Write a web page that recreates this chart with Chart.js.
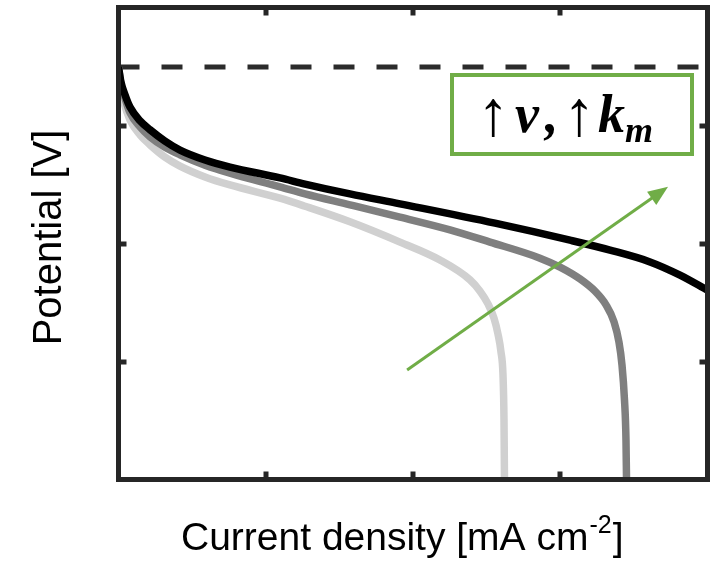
<!DOCTYPE html>
<html>
<head>
<meta charset="utf-8">
<script src="https://cdn.jsdelivr.net/npm/chart.js@4"></script>
<style>
  html, body { margin: 0; padding: 0; background: #fff; }
  #wrap { width: 712px; height: 570px; }
</style>
</head>
<body>
<div id="wrap"><canvas id="polChart" width="712" height="570"></canvas></div>
<script>
// curve dati (x = densità di corrente, y = potenziale, unità arbitrarie 0-100)
var blackX = [0, 0.42, 1.10, 1.95, 3.65, 5.35, 7.89, 10.44, 14.69, 18.93, 27.42, 31.66, 39.30, 47.79, 63.92, 76.66, 83.45, 90.24, 95.33, 100];
var blackY = [87.4, 84.2, 81.5, 78.9, 76.0, 74.1, 71.7, 69.8, 67.7, 66.2, 63.9, 62.6, 60.5, 58.4, 54.3, 50.7, 48.6, 46.1, 43.3, 40.1];

var grayX = [0, 0.42, 1.10, 1.95, 3.65, 5.35, 7.89, 10.44, 14.69, 18.93, 27.42, 31.66, 39.30, 47.79, 56.28, 63.07, 71.56, 74.96, 78.35, 80.90, 82.77, 84.13, 84.97, 85.48, 85.91, 86.16, 86.25];
var grayY = [87.4, 83.8, 80.8, 77.7, 74.7, 72.6, 70.4, 68.8, 66.6, 64.9, 62.0, 60.5, 58.2, 55.6, 52.9, 50.3, 46.9, 45.0, 42.5, 39.9, 37.0, 33.4, 29.1, 24.3, 16.8, 8.4, 0];

var lightX = [0, 0.25, 0.93, 1.95, 3.65, 5.35, 7.89, 10.44, 14.69, 18.93, 27.42, 31.66, 39.30, 47.79, 54.58, 59.68, 61.38, 62.73, 63.75, 64.43, 64.94, 65.28, 65.45, 65.53];
var lightY = [87.4, 83.4, 79.8, 76.2, 73.0, 70.9, 68.3, 66.4, 64.1, 62.4, 59.6, 57.9, 54.6, 50.3, 46.5, 42.3, 39.9, 37.2, 34.2, 30.8, 27.0, 22.1, 12.6, 0];

// linea tratteggiata (potenziale a circuito aperto)
var ocvX = [0, 100];
var ocvY = [87.4, 87.4];

// freccia verde
var arrowX = [49.0, 93.3];
var arrowY = [23.2, 62.0];

var tickValues = [25, 50, 75];

function toPoints(xs, ys) {
    return xs.map(function(x, i) { return { x: x, y: ys[i] }; });
}

// plugin per cornice, tacche, freccia, riquadro e titoli
var decorPlugin = {
    id: 'decor',
    afterDatasetsDraw: function(chart) {
        var ctx = chart.ctx;
        var a = chart.chartArea;
        var xs = chart.scales.x, ys = chart.scales.y;
        ctx.save();

        // freccia
        var x1 = xs.getPixelForValue(arrowX[0]), y1 = ys.getPixelForValue(arrowY[0]);
        var x2 = xs.getPixelForValue(arrowX[1]), y2 = ys.getPixelForValue(arrowY[1]);
        var ang = Math.atan2(y2 - y1, x2 - x1);
        ctx.strokeStyle = '#70ad47';
        ctx.fillStyle = '#70ad47';
        ctx.lineWidth = 3;
        ctx.beginPath();
        ctx.moveTo(x1, y1);
        ctx.lineTo(x2 - 16 * Math.cos(ang), y2 - 16 * Math.sin(ang));
        ctx.stroke();
        ctx.beginPath();
        ctx.moveTo(x2, y2);
        ctx.lineTo(x2 - 20 * Math.cos(ang) + 8 * Math.sin(ang), y2 - 20 * Math.sin(ang) - 8 * Math.cos(ang));
        ctx.lineTo(x2 - 20 * Math.cos(ang) - 8 * Math.sin(ang), y2 - 20 * Math.sin(ang) + 8 * Math.cos(ang));
        ctx.closePath();
        ctx.fill();

        // riquadro
        ctx.fillStyle = '#fff';
        ctx.fillRect(452, 75, 240, 79);
        ctx.lineWidth = 4;
        ctx.strokeRect(452, 75, 240, 79);

        ctx.fillStyle = '#000';
        ctx.textBaseline = 'alphabetic';
        ctx.textAlign = 'left';
        ctx.font = '64px "Liberation Serif"';
        ctx.fillText('↑', 477, 135);
        ctx.fillText('↑', 563, 135);
        ctx.font = 'bold italic 54px "Liberation Serif"';
        ctx.fillText('v', 515, 132);
        ctx.fillText(',', 545, 132);
        ctx.fillText('k', 598, 132);
        ctx.font = 'bold italic 36px "Liberation Serif"';
        ctx.fillText('m', 625, 142);

        // cornice
        ctx.strokeStyle = '#262626';
        ctx.lineWidth = 5;
        ctx.strokeRect(a.left, a.top, a.right - a.left, a.bottom - a.top);
        var tl = 8;
        ctx.beginPath();
        tickValues.forEach(function(v) {
            var px = Math.round(xs.getPixelForValue(v));
            ctx.moveTo(px, a.bottom); ctx.lineTo(px, a.bottom - tl);
            ctx.moveTo(px, a.top); ctx.lineTo(px, a.top + tl);
            var py = Math.round(ys.getPixelForValue(v));
            ctx.moveTo(a.left, py); ctx.lineTo(a.left + tl, py);
            ctx.moveTo(a.right, py); ctx.lineTo(a.right - tl, py);
        });
        ctx.stroke();

        // titoli assi
        ctx.fillStyle = '#000';
        ctx.font = '39px "Liberation Sans"';
        ctx.textAlign = 'left';
        var t1 = 'Current density [mA cm';
        var w1 = ctx.measureText(t1).width;
        ctx.font = '25px "Liberation Sans"';
        var w2 = ctx.measureText('-2').width;
        var sx = 181;
        ctx.font = '39px "Liberation Sans"';
        ctx.fillText(t1, sx, 550);
        ctx.font = '25px "Liberation Sans"';
        ctx.fillText('-2', sx + w1 + 1, 533);
        ctx.font = '39px "Liberation Sans"';
        ctx.fillText(']', sx + w1 + w2 + 2, 550);

        ctx.translate(61, 237.5);
        ctx.rotate(-Math.PI / 2);
        ctx.textAlign = 'center';
        ctx.font = '40px "Liberation Sans"';
        ctx.fillText('Potential [V]', 0, 0);
        ctx.restore();
    }
};

var lineStyle = { fill: false, pointRadius: 0, borderWidth: 7.5, cubicInterpolationMode: 'monotone', borderCapStyle: 'butt', borderJoinStyle: 'round' };

var chartData = {
    datasets: [
        Object.assign({ label: 'alto', data: toPoints(blackX, blackY), borderColor: '#000000' }, lineStyle),
        Object.assign({ label: 'medio', data: toPoints(grayX, grayY), borderColor: '#7f7f7f' }, lineStyle),
        Object.assign({ label: 'basso', data: toPoints(lightX, lightY), borderColor: '#d0d0d0' }, lineStyle),
        { label: 'OCV', data: toPoints(ocvX, ocvY), borderColor: '#2b2b2b', borderWidth: 5, borderDash: [21, 22],
          pointRadius: 0, fill: false, tension: 0 }
    ]
};

var chartConfig = {
    type: 'line',
    data: chartData,
    options: {
        responsive: false,
        animation: false,
        layout: { padding: { left: 118.5, right: 4.5, top: 7.5, bottom: 90.5 } },
        plugins: { legend: { display: false }, tooltip: { enabled: false } },
        scales: {
            x: { type: 'linear', min: 0, max: 100,
                 ticks: { display: false }, grid: { display: false, drawTicks: false }, border: { display: false } },
            y: { type: 'linear', min: 0, max: 100,
                 ticks: { display: false }, grid: { display: false, drawTicks: false }, border: { display: false } }
        }
    },
    plugins: [decorPlugin]
};

var polCanvas = document.getElementById('polChart').getContext('2d');
new Chart(polCanvas, chartConfig);
</script>
</body>
</html>
